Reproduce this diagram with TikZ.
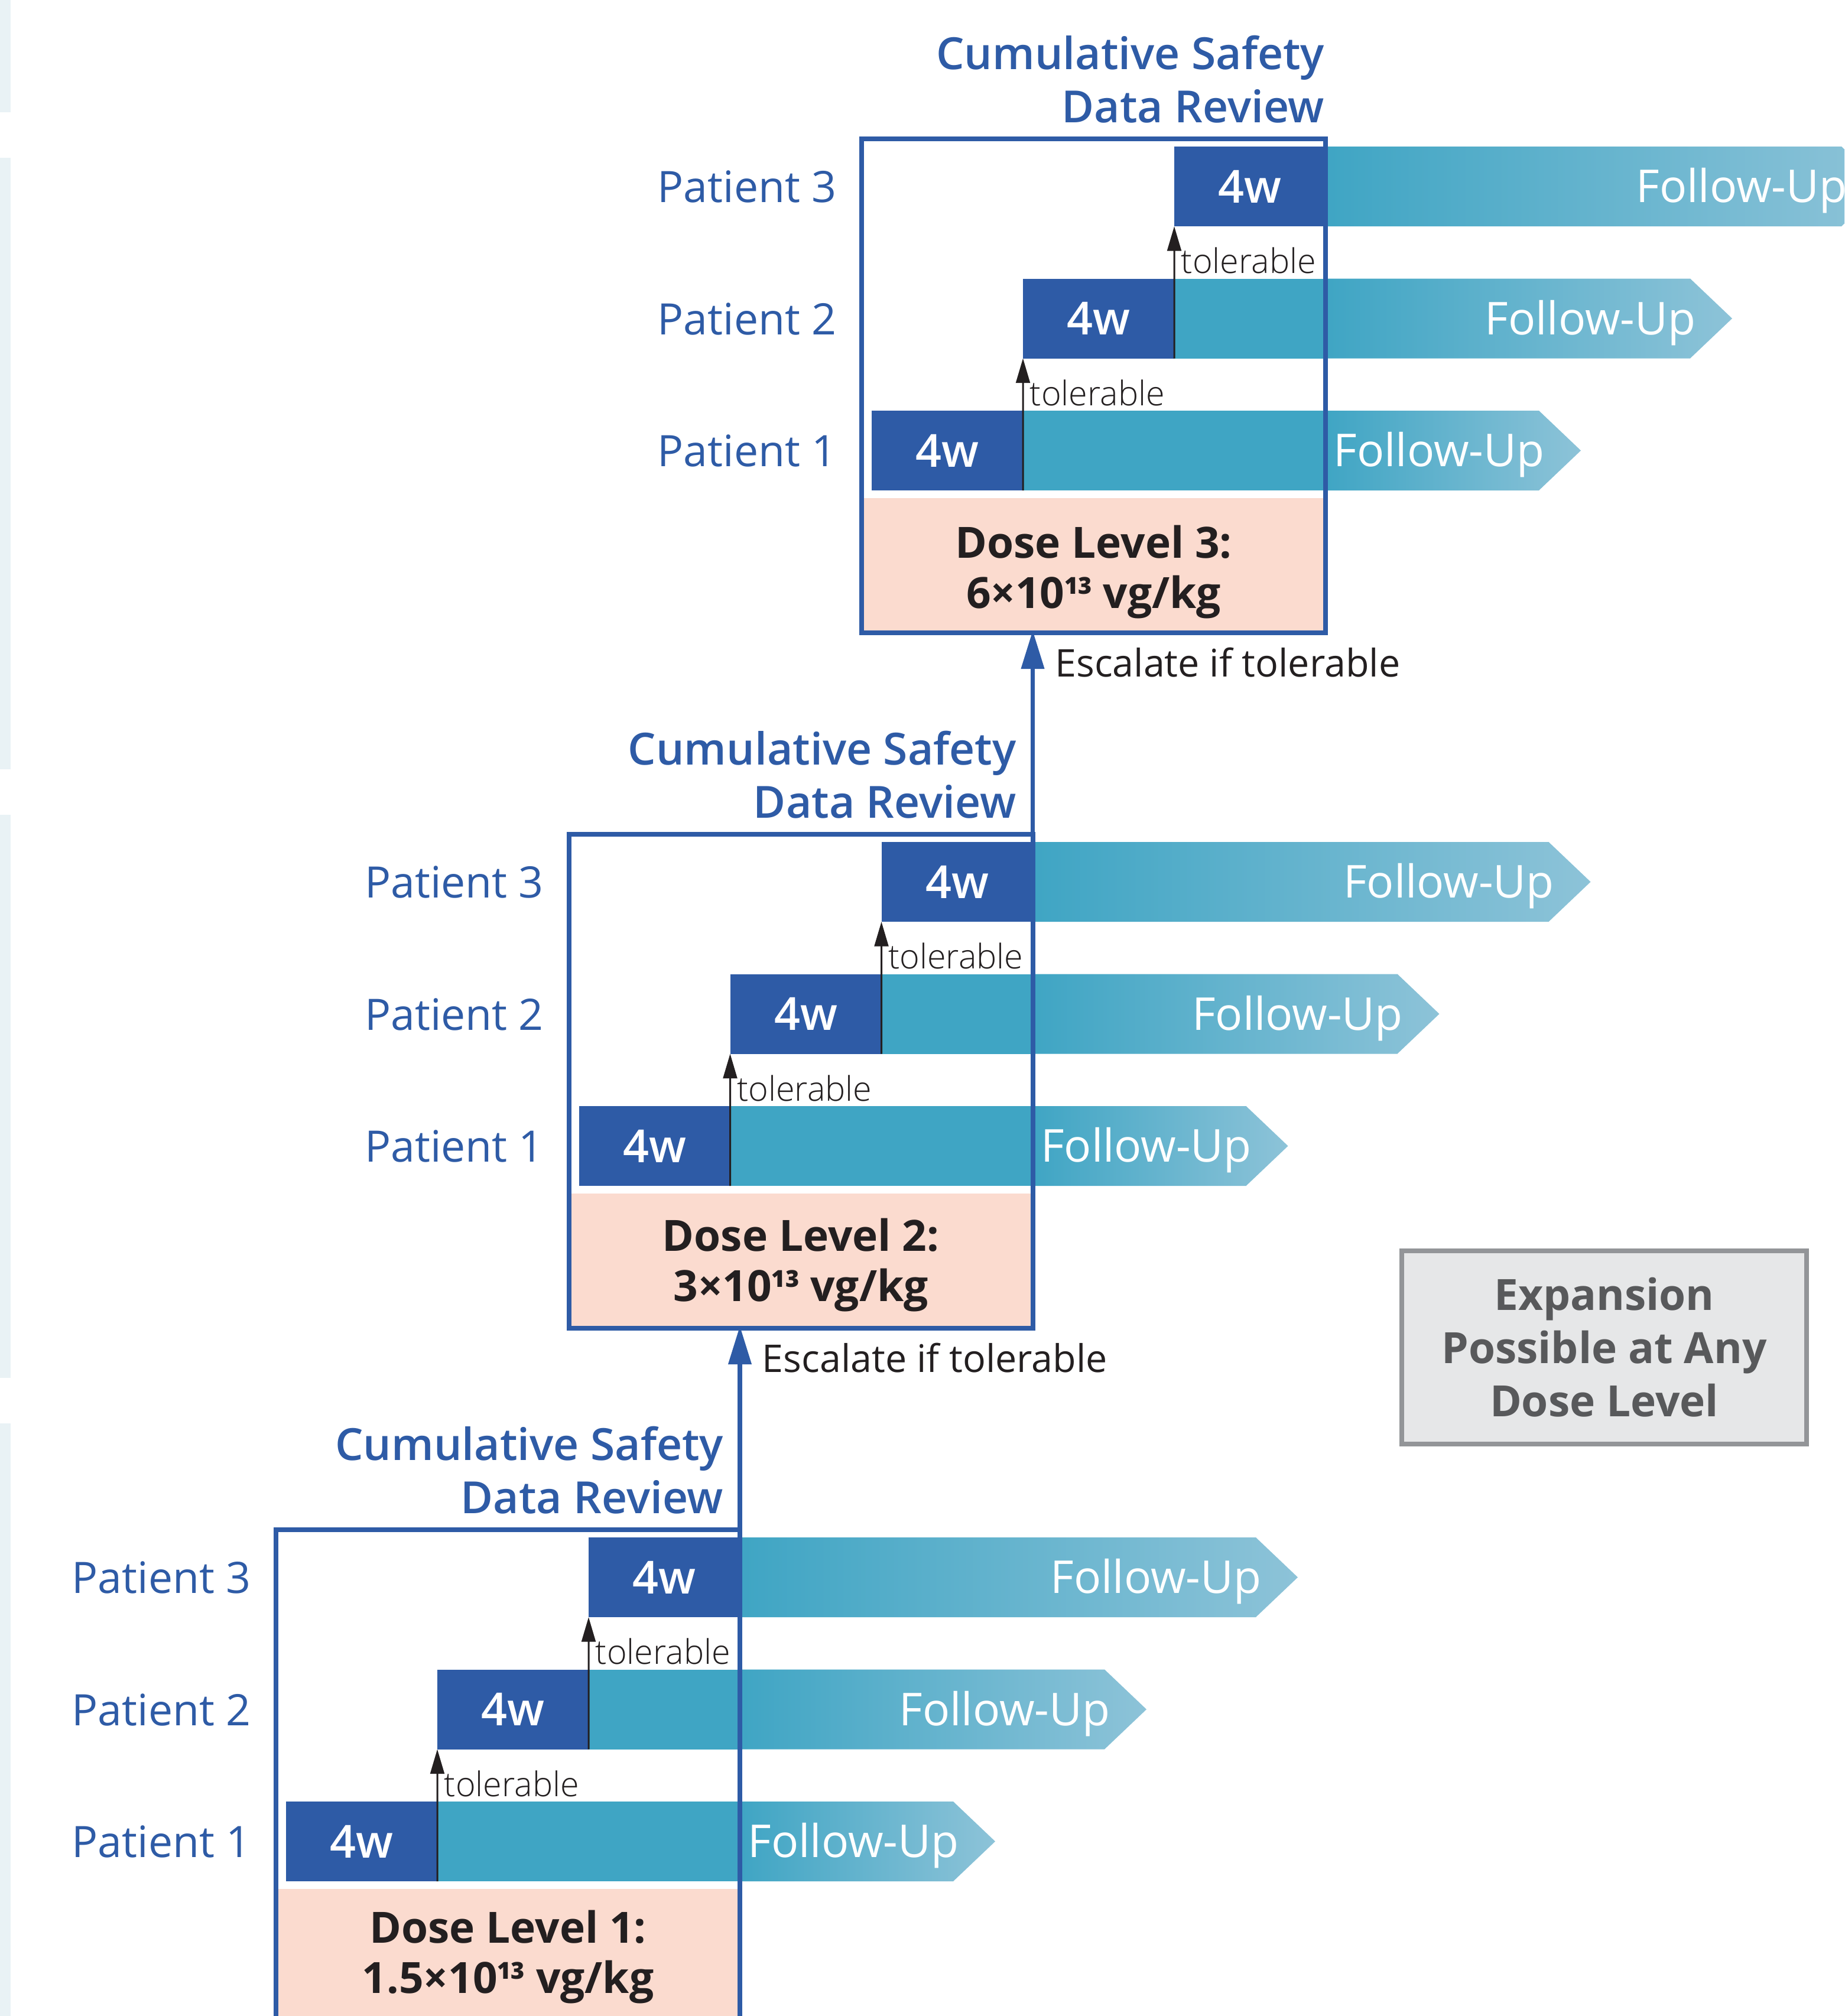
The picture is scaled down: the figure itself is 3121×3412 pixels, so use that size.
\documentclass[tikz,border=0pt]{standalone}
\usepackage{fontspec}
\setmainfont{Open Sans}
\IfFontExistsTF{Open Sans Semibold}{\newfontfamily\sbfont{Open Sans Semibold}}{\newcommand\sbfont{\bfseries}}
\IfFontExistsTF{Open Sans Light}{\newfontfamily\ltfont{Open Sans Light}}{\newcommand\ltfont{}}
\usetikzlibrary{arrows.meta}
\definecolor{dblue}{HTML}{2E5BA6}
\definecolor{fuTeal}{HTML}{3FA5C4}
\definecolor{fuLight}{HTML}{8DC3D8}
\definecolor{peach}{HTML}{FBDBCF}
\definecolor{ink}{HTML}{231F20}
\definecolor{expFill}{HTML}{E6E7E8}
\definecolor{expLine}{HTML}{939598}
\definecolor{expText}{HTML}{58595B}
\definecolor{stripc}{HTML}{E9F2F5}
\newcommand\expo{\raisebox{5.7pt}{\sbfont\fontsize{9.5}{10}\selectfont 13}}
\begin{document}
\begin{tikzpicture}[x=0.24pt,y=-0.24pt,
  wbox/.style={fill=dblue, text=white, minimum width=61.44pt, minimum height=32.4pt, inner sep=0pt, outer sep=0pt, font=\sbfont\fontsize{18.5}{20}\selectfont},
  patlab/.style={text=dblue, font=\fontsize{17.6}{21}\selectfont, anchor=base west, inner sep=0pt},
  fu/.style={text=white, font=\fontsize{18.4}{21}\selectfont, anchor=base east, inner sep=0pt},
  tol/.style={text=ink, font=\ltfont\fontsize{13.8}{15}\selectfont, anchor=base west, inner sep=0pt},
  csdr/.style={text=dblue, font=\sbfont\fontsize{18}{21.6}\selectfont, align=right, anchor=base east, inner sep=0pt},
  esct/.style={text=ink, font=\fontsize{15.5}{18}\selectfont, anchor=base west, inner sep=0pt},
  peachbox/.style={fill=peach, minimum width=186.48pt, minimum height=53.76pt, inner sep=0pt, outer sep=0pt},
  dose/.style={text=ink, font=\bfseries\fontsize{17.5}{20.4}\selectfont, align=center, anchor=base, inner sep=0pt},
  frame/.style={draw=dblue, line width=1.92pt, minimum width=188.4pt, minimum height=200.64pt, inner sep=0pt, outer sep=0pt},
  expbox/.style={draw=expLine, fill=expFill, line width=1.92pt, text=expText, font=\bfseries\fontsize{17.5}{21.6}\selectfont, align=center, minimum width=164.4pt, minimum height=78.48pt, inner sep=0pt},
  tolarrow/.style={draw=ink, line width=0.72pt, -{Triangle[length=10pt,width=5.7pt]}},
  esc/.style={draw=dblue, line width=1.8pt, -{Triangle[length=15.6pt,width=9.1pt]}, shorten >=-0.96pt}
]
\useasboundingbox (0,0) rectangle (3121,3412);
\clip (0,0) rectangle (3121,3412);
\fill[white] (0,0) rectangle (3121,3412);
% faint strips at the left edge
\fill[stripc] (0,0) rectangle (18,190);
\fill[stripc] (0,267) rectangle (18,1302);
\fill[stripc] (0,1379) rectangle (18,2332);
\fill[stripc] (0,2409) rectangle (18,3412);

\foreach \L/\dx/\dy/\v/\cx/\dly in {1/0/0/1.5/0/3373, 2/495.5/-1177/3/0/3379, 3/991/-2354/6/26/3383}{
  \begin{scope}[shift={(\dx,\dy)}]
    \foreach \r/\s/\c in {1/484/3116.5, 2/740/2893, 3/996/2669.5}{
      \fill[fuTeal] (\s+250,\c-67.5) rectangle (1252,\c+67.5);
      \shade[left color=fuTeal, right color=fuLight] (1252,\c-67.5) -- (\s+1129,\c-67.5) -- (\s+1200,\c) -- (\s+1129,\c+67.5) -- (1252,\c+67.5) -- cycle;
      \node[wbox] (w\L\r) at (\s+128,\c) {4w};
      \node[fu] (fu\L\r) at (\s+1139,\c+27) {Follow-Up};
      \node[patlab] (pt\L\r) at (121,\c+27) {Patient \r};
    }
    \node[peachbox] (pb\L) at (859.5,3309) {};
    \node[dose] (d\L) at (859.5,\dly) {Dose Level \L:\\\v×10\expo{} vg/kg};
    \node[frame] (f\L) at (859.5,3007) {};
    \draw[tolarrow] (w\L1.south east) -- (w\L2.south west);
    \draw[tolarrow] (w\L2.south east) -- (w\L3.south west);
    \node[tol] (t\L1) at (751,3040) {tolerable};
    \node[tol] (t\L2) at (1007,2816.5) {tolerable};
    \node[csdr] (c\L) at (1225+\cx,2561) {Cumulative Safety\\Data Review};
  \end{scope}
}

\draw[esc] (f1.north east) -- (f1.north east |- f2.south);
\draw[esc] (f2.north east) -- (f2.north east |- f3.south);
\node[esct] (e1) at (1289,2322) {Escalate if tolerable};
\node[esct] (e2) at (1784.5,1145) {Escalate if tolerable};

\node[expbox] (x) at (2714.5,2280) {Expansion\\Possible at Any\\Dose Level};
\end{tikzpicture}
\end{document}
